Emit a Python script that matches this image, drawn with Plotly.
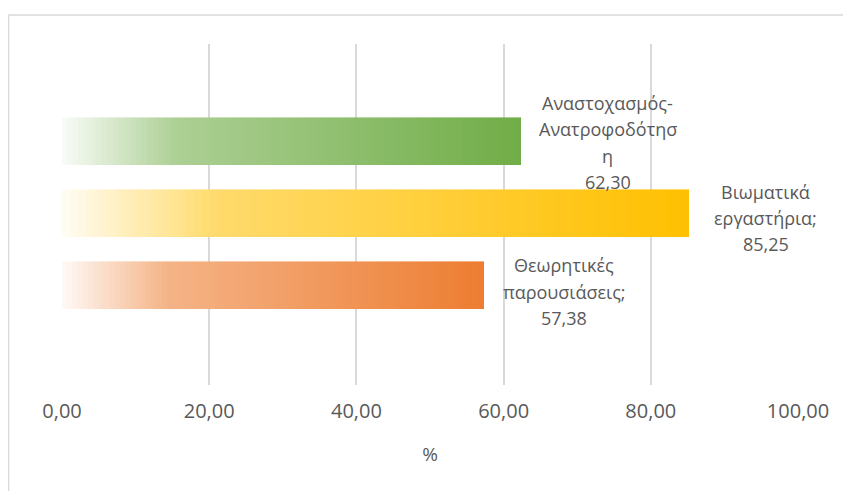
import plotly.graph_objects as go

# ---- data ----
categories = ["Θεωρητικές παρουσιάσεις", "Βιωματικά εργαστήρια", "Αναστοχασμός-Ανατροφοδότηση"]
values = [57.38, 85.25, 62.30]
value_labels = ["57,38", "85,25", "62,30"]
label_lines = [["Θεωρητικές", "παρουσιάσεις;"], ["Βιωματικά", "εργαστήρια;"], ["Αναστοχασμός-", "Ανατροφοδότησ", "η"]]
base_colors = [(237, 125, 49), (255, 192, 0), (112, 173, 71)]
tick_vals = [0, 20, 40, 60, 80, 100]
axis_title = "%"

N = 80


def alpha_at(t):
    if t < 0.25:
        return 0.04 + (0.58 - 0.04) * t / 0.25
    return 0.58 + (1.0 - 0.58) * (t - 0.25) / 0.75


def mix(c, a):
    return "rgb(%d,%d,%d)" % tuple(round(255 - (255 - ch) * a) for ch in c)


fig = go.Figure()
for i in range(N):
    t = (i + 0.5) / N
    cols = [mix(c, alpha_at(t)) for c in base_colors]
    fig.add_trace(go.Bar(
        y=categories,
        x=[v / N for v in values],
        orientation="h",
        width=0.65,
        marker=dict(color=cols, line=dict(width=0.6, color=cols)),
        hoverinfo="skip",
        showlegend=False,
    ))

LINE_H = 26.3
center_dx = [80, 76.5, 87]
center_dy = [-6, -4.5, -1]
for cat, v, lines, vl, dx, dy in zip(categories, values, label_lines, value_labels, center_dx, center_dy):
    all_lines = lines + [vl]
    n = len(all_lines)
    for k, line in enumerate(all_lines):
        fig.add_annotation(
            x=v, y=cat, xref="x", yref="y",
            text=line,
            showarrow=False, xanchor="center", yanchor="middle", align="center",
            xshift=dx, yshift=dy - (k - (n - 1) / 2) * LINE_H,
            font=dict(family="Open Sans", size=18, color="#595959"),
        )

# outer chart border (only top/left visible in frame)
fig.add_shape(type="rect", xref="paper", yref="paper",
              x0=-0.0726, x1=1.3, y0=-0.6, y1=1.085,
              line=dict(color="#D9D9D9", width=1.5), layer="below")

fig.update_layout(
    width=851, height=491,
    margin=dict(l=53.5, r=60.5, t=36, b=114),
    paper_bgcolor="white", plot_bgcolor="white",
    barmode="stack", bargap=0,
    separators=",.",
    font=dict(family="Open Sans", color="#595959"),
    xaxis=dict(
        range=[0, 100], tickvals=tick_vals, tickformat=".2f",
        showgrid=True, gridcolor="#D9D9D9", gridwidth=1.5,
        zeroline=False, showline=False, ticks="",
        ticklabelstandoff=12,
        tickfont=dict(family="Open Sans", size=20, color="#595959"),
        title=dict(text=axis_title, font=dict(family="Open Sans", size=19, color="#595959"), standoff=24),
        fixedrange=True,
    ),
    yaxis=dict(
        categoryorder="array", categoryarray=categories,
        range=[-1.375, 3.35], showticklabels=False, showgrid=False,
        zeroline=False, showline=False, ticks="",
    ),
)

fig.write_html("out.html")
